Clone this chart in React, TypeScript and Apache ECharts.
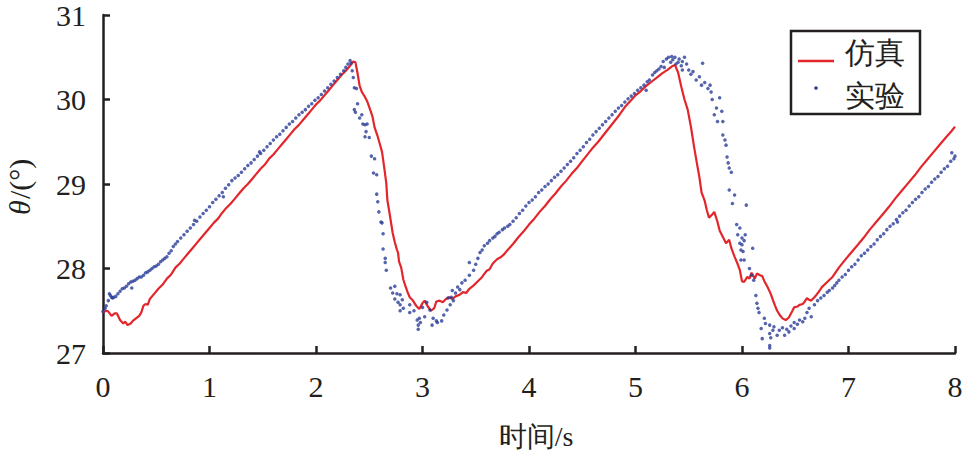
import React, { useEffect, useRef } from "react";
import * as echarts from "echarts";

// ---- axis ticks ----
const xTicks = [0, 1, 2, 3, 4, 5, 6, 7, 8];
const yTicks = [27, 28, 29, 30, 31];

// ---- simulation (仿真) line, [time s, theta deg] ----
const simRise1 = [
  [0.00, 27.48], [0.03, 27.50], [0.05, 27.49], [0.08, 27.44], [0.11, 27.47], [0.13, 27.47], [0.16, 27.39], [0.19, 27.35],
  [0.21, 27.37], [0.23, 27.33], [0.26, 27.35], [0.28, 27.38], [0.31, 27.41], [0.34, 27.44], [0.36, 27.48], [0.38, 27.56],
  [0.40, 27.58], [0.42, 27.57], [0.44, 27.64], [0.48, 27.70], [0.52, 27.76], [0.56, 27.81], [0.60, 27.88], [0.64, 27.93],
  [0.68, 28.01], [0.72, 28.06], [0.76, 28.12], [0.80, 28.18], [0.84, 28.24], [0.88, 28.30], [0.92, 28.36], [0.96, 28.42],
  [1.00, 28.48], [1.04, 28.54], [1.08, 28.59], [1.12, 28.66], [1.16, 28.72], [1.20, 28.77], [1.24, 28.83], [1.28, 28.89],
  [1.32, 28.95], [1.36, 29.00], [1.40, 29.06], [1.44, 29.12], [1.48, 29.18], [1.52, 29.23], [1.56, 29.30], [1.60, 29.35],
  [1.64, 29.41], [1.68, 29.47], [1.72, 29.53], [1.76, 29.59], [1.80, 29.65], [1.84, 29.70], [1.88, 29.76], [1.92, 29.82],
  [1.96, 29.88], [2.00, 29.94], [2.04, 29.99], [2.08, 30.05], [2.12, 30.11], [2.16, 30.17], [2.20, 30.23], [2.24, 30.29],
  [2.28, 30.34], [2.32, 30.40], [2.35, 30.45],
];
const simFall1 = [
  [2.37, 30.44], [2.39, 30.31], [2.41, 30.16], [2.43, 30.09], [2.46, 30.03], [2.48, 29.98], [2.50, 29.91], [2.53, 29.80],
  [2.55, 29.67], [2.58, 29.56], [2.60, 29.47], [2.62, 29.38], [2.64, 29.20], [2.66, 29.01], [2.67, 28.81], [2.69, 28.66],
  [2.71, 28.50], [2.72, 28.42], [2.74, 28.31], [2.76, 28.22], [2.77, 28.19], [2.78, 28.08], [2.80, 28.01], [2.82, 27.87],
  [2.84, 27.79], [2.86, 27.72], [2.88, 27.66], [2.91, 27.62], [2.94, 27.56], [2.97, 27.52], [3.00, 27.59], [3.02, 27.62],
  [3.05, 27.55], [3.08, 27.50], [3.11, 27.53], [3.13, 27.61], [3.16, 27.62], [3.19, 27.60], [3.22, 27.64], [3.25, 27.66],
  [3.28, 27.64], [3.31, 27.67], [3.35, 27.69], [3.38, 27.72], [3.41, 27.71], [3.44, 27.76], [3.48, 27.80], [3.52, 27.85],
  [3.56, 27.90], [3.60, 27.97], [3.63, 27.99], [3.66, 28.06], [3.70, 28.11], [3.73, 28.13], [3.76, 28.16], [3.80, 28.22],
  [3.85, 28.29],
];
const simRise2 = [
  [3.90, 28.37], [3.95, 28.44], [4.00, 28.52], [4.05, 28.59], [4.10, 28.67], [4.15, 28.74], [4.20, 28.82], [4.25, 28.89],
  [4.30, 28.97], [4.35, 29.04], [4.40, 29.12], [4.45, 29.19], [4.50, 29.27], [4.55, 29.35], [4.60, 29.43], [4.65, 29.50],
  [4.70, 29.58], [4.75, 29.66], [4.80, 29.74], [4.85, 29.82], [4.90, 29.91], [4.95, 29.98], [5.00, 30.05], [5.05, 30.10],
  [5.10, 30.16], [5.15, 30.21], [5.20, 30.26], [5.25, 30.31], [5.30, 30.35], [5.34, 30.39], [5.37, 30.41],
];
const simFall2 = [
  [5.40, 30.32], [5.43, 30.15], [5.46, 30.00], [5.49, 29.88], [5.52, 29.68], [5.55, 29.44], [5.58, 29.22], [5.60, 29.08],
  [5.62, 28.90], [5.65, 28.80], [5.67, 28.69], [5.69, 28.60], [5.72, 28.64], [5.74, 28.67], [5.77, 28.55], [5.79, 28.45],
  [5.81, 28.40], [5.85, 28.30], [5.88, 28.34], [5.90, 28.24], [5.93, 28.14], [5.96, 28.05], [5.98, 27.98], [6.00, 27.85],
  [6.02, 27.84], [6.05, 27.90], [6.07, 27.88], [6.09, 27.95], [6.12, 27.88], [6.14, 27.94], [6.17, 27.92], [6.19, 27.91],
  [6.21, 27.85], [6.24, 27.78], [6.27, 27.70], [6.29, 27.63], [6.31, 27.56], [6.33, 27.50], [6.36, 27.44], [6.38, 27.41],
  [6.41, 27.39], [6.44, 27.42], [6.47, 27.49], [6.49, 27.54], [6.52, 27.55], [6.54, 27.57], [6.57, 27.58], [6.59, 27.61],
  [6.61, 27.65], [6.63, 27.63], [6.65, 27.62], [6.68, 27.66], [6.70, 27.69], [6.73, 27.74], [6.75, 27.78], [6.80, 27.84],
  [6.85, 27.90], [6.91, 28.01],
];
const simRise3 = [
  [6.96, 28.09], [7.02, 28.18], [7.08, 28.27], [7.14, 28.36], [7.20, 28.46], [7.26, 28.55], [7.32, 28.64], [7.38, 28.73],
  [7.44, 28.83], [7.50, 28.92], [7.56, 29.01], [7.62, 29.10], [7.68, 29.20], [7.74, 29.29], [7.80, 29.38], [7.86, 29.47],
  [7.92, 29.56], [7.97, 29.63], [8.00, 29.68],
];

// ---- experiment (实验) scatter, [time s, theta deg] ----
const expRise1 = [
  [0.00, 27.49], [0.02, 27.53], [0.03, 27.56], [0.05, 27.62], [0.06, 27.70], [0.07, 27.68], [0.08, 27.66], [0.09, 27.65],
  [0.10, 27.66], [0.12, 27.67], [0.14, 27.70], [0.16, 27.73], [0.18, 27.76], [0.20, 27.77], [0.22, 27.79], [0.24, 27.82],
  [0.26, 27.84], [0.27, 27.77], [0.28, 27.85], [0.30, 27.86], [0.32, 27.88], [0.34, 27.90], [0.36, 27.90], [0.38, 27.92],
  [0.40, 27.95], [0.42, 27.96], [0.44, 27.98], [0.46, 28.00], [0.48, 28.02], [0.50, 28.03], [0.52, 28.05], [0.54, 28.08],
  [0.56, 28.10], [0.58, 28.12], [0.60, 28.14], [0.62, 28.18], [0.64, 28.21], [0.66, 28.26], [0.68, 28.29], [0.70, 28.32],
  [0.73, 28.36], [0.76, 28.40], [0.79, 28.44], [0.82, 28.48], [0.85, 28.52], [0.86, 28.57], [0.88, 28.56], [0.91, 28.61],
  [0.94, 28.65], [0.97, 28.69], [1.00, 28.73], [1.03, 28.78], [1.06, 28.82], [1.09, 28.86], [1.12, 28.90], [1.13, 28.85],
  [1.15, 28.95], [1.18, 28.99], [1.21, 29.04], [1.24, 29.07], [1.27, 29.10], [1.30, 29.14], [1.33, 29.18], [1.36, 29.22],
  [1.39, 29.25], [1.42, 29.29], [1.45, 29.33], [1.47, 29.38], [1.48, 29.36], [1.51, 29.40], [1.54, 29.44], [1.57, 29.48],
  [1.60, 29.52], [1.63, 29.56], [1.66, 29.59], [1.69, 29.63], [1.72, 29.67], [1.75, 29.71], [1.78, 29.74], [1.81, 29.78],
  [1.84, 29.82], [1.87, 29.85], [1.90, 29.88], [1.93, 29.92], [1.96, 29.95], [1.99, 29.99], [2.02, 30.02], [2.05, 30.06],
  [2.08, 30.10], [2.11, 30.14], [2.14, 30.18], [2.17, 30.22], [2.20, 30.26], [2.23, 30.30], [2.26, 30.34], [2.28, 30.38],
  [2.30, 30.42], [2.32, 30.46], [2.33, 30.43],
];
const expFall1 = [
  [2.34, 30.34], [2.35, 30.26], [2.36, 30.14], [2.38, 30.13], [2.39, 29.95], [2.36, 29.88], [2.37, 29.85], [2.43, 29.82],
  [2.41, 29.78], [2.44, 29.71], [2.46, 29.70], [2.48, 29.71], [2.47, 29.62], [2.46, 29.56], [2.50, 29.55], [2.52, 29.33],
  [2.55, 29.30], [2.54, 29.13], [2.57, 29.11], [2.57, 28.88], [2.58, 28.79], [2.59, 28.67], [2.61, 28.55], [2.62, 28.54],
  [2.63, 28.41], [2.63, 28.23], [2.65, 28.12], [2.65, 28.07], [2.66, 27.98], [2.70, 27.77], [2.74, 27.79], [2.72, 27.71],
  [2.76, 27.70], [2.79, 27.69], [2.74, 27.64], [2.77, 27.60], [2.81, 27.63], [2.79, 27.57], [2.82, 27.53], [2.88, 27.57],
  [2.79, 27.50], [2.88, 27.48], [2.92, 27.50], [2.95, 27.39], [2.97, 27.41], [2.96, 27.33], [2.98, 27.36], [2.96, 27.28],
  [3.00, 27.54], [3.04, 27.60], [3.02, 27.43], [3.07, 27.51], [3.10, 27.41], [3.13, 27.38], [3.09, 27.33], [3.14, 27.36],
  [3.18, 27.38], [3.20, 27.45], [3.23, 27.51], [3.26, 27.57], [3.24, 27.65], [3.27, 27.66], [3.29, 27.62], [3.28, 27.74],
  [3.31, 27.71], [3.33, 27.78], [3.35, 27.75], [3.37, 27.83], [3.40, 27.86], [3.44, 27.92], [3.48, 27.98], [3.44, 28.07],
  [3.50, 28.05], [3.52, 28.12], [3.54, 28.19], [3.56, 28.22], [3.58, 28.27], [3.61, 28.30], [3.63, 28.33], [3.66, 28.36],
  [3.68, 28.38], [3.70, 28.41], [3.72, 28.43], [3.75, 28.46], [3.77, 28.48], [3.80, 28.50], [3.82, 28.52],
];
const expRise2 = [
  [3.85, 28.56], [3.88, 28.60], [3.91, 28.65], [3.94, 28.69], [3.97, 28.74], [4.00, 28.78], [4.03, 28.81], [4.06, 28.85],
  [4.09, 28.90], [4.12, 28.93], [4.15, 28.97], [4.18, 29.00], [4.21, 29.04], [4.24, 29.08], [4.27, 29.11], [4.30, 29.15],
  [4.33, 29.19], [4.36, 29.23], [4.39, 29.27], [4.42, 29.31], [4.45, 29.36], [4.48, 29.40], [4.51, 29.44], [4.54, 29.49],
  [4.57, 29.53], [4.60, 29.58], [4.63, 29.62], [4.66, 29.66], [4.69, 29.70], [4.72, 29.74], [4.75, 29.78], [4.78, 29.82],
  [4.81, 29.86], [4.84, 29.90], [4.87, 29.93], [4.90, 29.97], [4.93, 30.01], [4.96, 30.04], [4.99, 30.07], [5.02, 30.11],
  [5.05, 30.14], [5.08, 30.17], [5.10, 30.11], [5.11, 30.21], [5.13, 30.23],
];
const expFall2 = [
  [5.16, 30.29], [5.18, 30.32], [5.20, 30.34], [5.22, 30.36], [5.24, 30.39], [5.26, 30.45], [5.27, 30.38], [5.29, 30.48],
  [5.31, 30.50], [5.33, 30.44], [5.34, 30.51], [5.35, 30.47], [5.37, 30.50], [5.38, 30.42], [5.40, 30.44], [5.41, 30.48],
  [5.43, 30.40], [5.44, 30.45], [5.46, 30.50], [5.48, 30.42], [5.44, 30.35], [5.50, 30.35], [5.52, 30.30], [5.54, 30.33],
  [5.57, 30.23], [5.60, 30.27], [5.63, 30.43], [5.62, 30.17], [5.65, 30.20], [5.68, 30.13], [5.70, 30.17], [5.71, 30.09],
  [5.72, 30.00], [5.79, 30.02], [5.76, 29.90], [5.74, 29.82], [5.77, 29.74], [5.81, 29.86], [5.82, 29.74], [5.82, 29.58],
  [5.84, 29.52], [5.85, 29.46], [5.86, 29.32], [5.87, 29.25], [5.88, 29.19], [5.90, 29.14], [5.88, 28.93], [5.93, 28.87],
  [5.91, 28.77], [6.04, 28.75], [5.95, 28.52], [5.98, 28.48], [5.96, 28.40], [6.03, 28.40], [6.00, 28.36], [5.98, 28.30],
  [6.00, 28.28], [6.02, 28.33], [5.99, 28.22], [6.01, 28.20], [5.99, 28.10], [6.02, 28.10], [6.10, 28.24], [6.07, 28.00],
  [6.09, 27.92], [6.11, 27.86], [6.13, 27.68], [6.14, 27.59], [6.15, 27.53], [6.16, 27.48], [6.21, 27.41], [6.22, 27.35],
  [6.18, 27.29], [6.19, 27.17], [6.26, 27.33], [6.26, 27.23], [6.29, 27.27], [6.27, 27.18], [6.26, 27.09], [6.26, 27.06],
  [6.30, 27.31], [6.33, 27.21], [6.35, 27.27], [6.38, 27.30], [6.40, 27.21], [6.42, 27.28], [6.44, 27.25], [6.46, 27.32],
  [6.49, 27.29], [6.49, 27.36], [6.52, 27.34], [6.54, 27.39], [6.57, 27.37], [6.59, 27.41], [6.61, 27.48], [6.63, 27.53],
  [6.65, 27.43], [6.68, 27.57], [6.71, 27.62], [6.74, 27.65], [6.77, 27.68], [6.80, 27.72], [6.82, 27.74], [6.85, 27.77],
  [6.87, 27.80], [6.89, 27.83], [6.91, 27.86],
];
const expRise3 = [
  [6.94, 27.90], [6.97, 27.93], [7.00, 27.98], [7.03, 28.02], [7.06, 28.05], [7.09, 28.10], [7.12, 28.15], [7.15, 28.18],
  [7.18, 28.22], [7.21, 28.26], [7.24, 28.29], [7.27, 28.34], [7.30, 28.38], [7.33, 28.41], [7.36, 28.46], [7.39, 28.50],
  [7.42, 28.53], [7.45, 28.58], [7.46, 28.55], [7.48, 28.62], [7.51, 28.66], [7.54, 28.69], [7.57, 28.74], [7.60, 28.78],
  [7.63, 28.82], [7.66, 28.85], [7.69, 28.90], [7.72, 28.94], [7.75, 28.97], [7.78, 29.02], [7.81, 29.06], [7.84, 29.09],
  [7.87, 29.14], [7.90, 29.18], [7.93, 29.21], [7.96, 29.27], [7.97, 29.37], [7.99, 29.30], [8.00, 29.33],
];

const simData = [...simRise1, ...simFall1, ...simRise2, ...simFall2, ...simRise3];
const expData = [...expRise1, ...expFall1, ...expRise2, ...expFall2, ...expRise3];

const INK = "#231f20";
const RED = "#e3262b";
const BLUE = "#2b3d97";
const SERIF = "Liberation Serif";

export default function App() {
  const ref = useRef<HTMLDivElement>(null);
  useEffect(() => {
    if (!ref.current) return;
    const chart = echarts.init(ref.current, undefined, { renderer: "svg" });
    chart.setOption({
      animation: false,
      grid: { left: 103, right: 14, top: 15, bottom: 102, outerBoundsMode: "none" },
      xAxis: {
        type: "value",
        min: xTicks[0],
        max: xTicks[xTicks.length - 1],
        interval: 1,
        axisLine: { show: true, onZero: false, lineStyle: { color: INK, width: 2.5 } },
        axisTick: { show: true, inside: true, length: 7, lineStyle: { color: INK, width: 2.5 } },
        axisLabel: { fontFamily: SERIF, fontSize: 30, color: INK, margin: 18 },
        splitLine: { show: false },
      },
      yAxis: {
        type: "value",
        min: yTicks[0],
        max: yTicks[yTicks.length - 1],
        interval: 1,
        axisLine: { show: true, onZero: false, lineStyle: { color: INK, width: 2.5 } },
        axisTick: { show: true, inside: true, length: 7, lineStyle: { color: INK, width: 2.5 } },
        axisLabel: { fontFamily: SERIF, fontSize: 30, color: INK, margin: 17 },
        splitLine: { show: false },
      },
      series: [
        {
          name: "仿真",
          type: "line",
          data: simData,
          showSymbol: false,
          symbol: "none",
          lineStyle: { color: RED, width: 2.2 },
          z: 2,
        },
        {
          name: "实验",
          type: "scatter",
          data: expData,
          symbol: "circle",
          symbolSize: 3.5,
          itemStyle: { color: BLUE },
          z: 3,
        },
      ],
      graphic: [
        // x-axis title
        {
          type: "text",
          x: 536,
          y: 436,
          style: { text: "时间/s", fontFamily: SERIF, fontSize: 28, fill: INK, align: "center", verticalAlign: "middle" },
        },
        // y-axis title, rotated to read bottom-to-top
        {
          type: "group",
          x: 19,
          y: 183,
          rotation: Math.PI / 2,
          children: [
            {
              type: "text",
              x: -32,
              y: 0,
              style: { text: "θ", fontFamily: SERIF, fontStyle: "italic", fontSize: 30, fill: INK, align: "left", verticalAlign: "middle" },
            },
            {
              type: "text",
              x: -16,
              y: 0,
              style: { text: "/(°)", fontFamily: SERIF, fontSize: 30, fill: INK, align: "left", verticalAlign: "middle" },
            },
          ],
        },
        // legend
        {
          type: "rect",
          z: 100,
          shape: { x: 791, y: 31, width: 129, height: 83 },
          style: { fill: "#ffffff", stroke: INK, lineWidth: 2.5 },
        },
        {
          type: "line",
          z: 101,
          shape: { x1: 798, y1: 61, x2: 834, y2: 61 },
          style: { stroke: RED, lineWidth: 2.5 },
        },
        {
          type: "text",
          z: 101,
          x: 845,
          y: 52,
          style: { text: "仿真", fontFamily: SERIF, fontSize: 30, fill: INK, verticalAlign: "middle" },
        },
        {
          type: "circle",
          z: 101,
          shape: { cx: 816, cy: 88, r: 1.8 },
          style: { fill: BLUE },
        },
        {
          type: "text",
          z: 101,
          x: 845,
          y: 95,
          style: { text: "实验", fontFamily: SERIF, fontSize: 30, fill: INK, verticalAlign: "middle" },
        },
      ],
    });
    return () => chart.dispose();
  }, []);
  return (
    <div>
      <div
        ref={ref}
        style={{ position: "fixed", left: 0, top: 0, width: 969, height: 455, background: "#fff" }}
      />
    </div>
  );
}
